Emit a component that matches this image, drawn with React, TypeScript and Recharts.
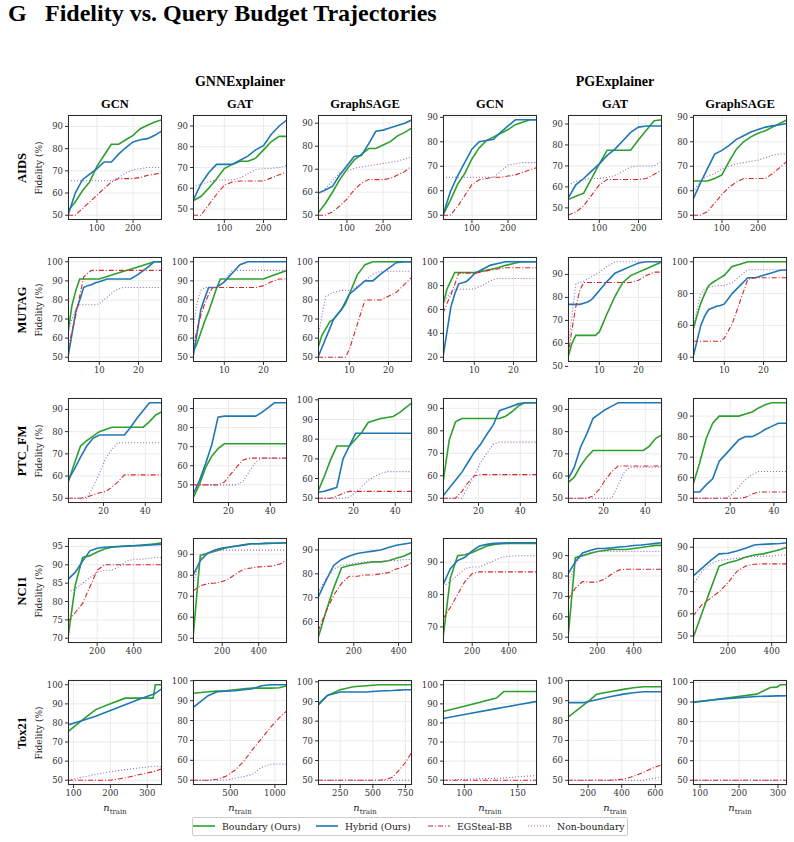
import { LineChart, Line, XAxis, YAxis, CartesianGrid } from "recharts";

// ---------- budgets (x values) ----------
const AIDS_X = [20, 40, 60, 80, 100, 120, 140, 160, 180, 200, 220, 240, 260, 280];
const AIDS_X_SHORT = [20, 40, 60, 80, 100, 120, 140, 160, 180, 200, 220, 240, 260];
const MUTAG_X = [2, 3, 4, 5, 6, 7, 8, 9, 10, 12, 14, 16, 18, 20, 22, 24, 26];
const PTC_X = [3, 6, 9, 12, 15, 18, 21, 24, 27, 30, 33, 36, 39, 42, 45, 48];
const PTC_X_SAGE_PG = [3, 6, 9, 12, 15, 18, 21, 24, 27, 30, 33, 36, 39, 42, 46];
const NCI1_X = [40, 80, 120, 160, 200, 240, 280, 320, 360, 400, 440, 480, 520, 555];
const NCI1_X_SAGE = [40, 75, 110, 145, 180, 215, 250, 285, 320, 355, 390, 425, 460];
const NCI1_X_SAGE_PG = [40, 80, 120, 160, 200, 240, 280, 320, 360, 400, 440, 470];
const TOX_X_GCN = [85, 120, 160, 200, 240, 280, 316, 322, 340];
const TOX_X_GAT = [80, 150, 250, 350, 450, 550, 650, 750, 850, 950, 1050, 1136];
const TOX_X_SAGE = [80, 150, 250, 350, 450, 550, 600, 650, 700, 750, 800];
const TOX_X_GCN_PG = [80, 100, 130, 137, 150, 168];
const TOX_X_GAT_PG = [80, 170, 210, 250, 330, 410, 470, 530, 580, 640];
const TOX_X_SAGE_PG = [82, 159, 245, 280, 297, 306, 323];

// ---------- fidelity (%) per panel: boundary / hybrid / egsteal / non-boundary ----------
const AIDS_GCN = {
  x: AIDS_X,
  boundary: [52, 56, 61, 65, 72, 77, 82, 82, 84, 86, 89, 90.5, 92, 93],
  hybrid: [50, 60, 66, 68.5, 71, 74, 74, 77.5, 80.5, 83, 84, 84.5, 86, 88],
  egsteal: [50, 50, 53, 56, 59, 62, 65, 66.5, 66.5, 66.5, 67, 68, 68.5, 69],
  nonBoundary: [65.5, 65.5, 65.5, 65.5, 65.5, 65.5, 65.5, 67, 69, 70.5, 71, 71.5, 71.5, 71.5],
};
const AIDS_GAT = {
  x: AIDS_X_SHORT,
  boundary: [54, 56, 60, 64.5, 69.5, 71.5, 73, 73, 74.5, 78.5, 82.5, 85, 85],
  hybrid: [54, 62, 67.5, 71.5, 71.5, 71.5, 73.5, 75.5, 78.5, 80.5, 86, 90, 93],
  egsteal: [47, 47, 52, 57, 61.5, 63, 63.5, 63.5, 63.5, 63.5, 65, 66.5, 68],
  nonBoundary: [60.5, 62, 63, 64, 64, 64, 65, 67, 69, 69.5, 69.5, 70, 71],
};
const AIDS_SAGE = {
  x: AIDS_X,
  boundary: [51, 55, 60, 65.5, 70, 74, 76.5, 79, 79, 80.5, 82, 84.5, 86, 88],
  hybrid: [59.5, 61, 62.5, 67.5, 71.5, 75.5, 76, 81, 86.5, 87, 88, 89, 90, 91.5],
  egsteal: [50, 50, 51.5, 54, 57, 61, 64, 65.5, 65.5, 65.5, 66, 67.5, 69, 71.5],
  nonBoundary: [59, 61.5, 65, 68.5, 69, 70.5, 71, 71.5, 72, 72.5, 73, 73.5, 74.5, 75.5],
};
const AIDS_PG_GCN = {
  x: AIDS_X,
  boundary: [50, 56, 62.5, 67, 73, 77.5, 80.5, 82, 83.5, 85, 87, 88, 89, 89],
  hybrid: [50, 59.5, 66, 71.5, 77, 80, 80.5, 81, 84, 86.5, 89, 89, 89, 89],
  egsteal: [50, 50, 53.5, 58, 62.5, 64.5, 65, 65.5, 65.5, 66, 66.5, 67.5, 68.5, 69.5],
  nonBoundary: [65.5, 65.5, 65.5, 65.5, 65.5, 65.5, 65.5, 65.5, 68, 70.5, 71, 71.5, 71.5, 71.5],
};
const AIDS_PG_GAT = {
  x: AIDS_X_SHORT,
  boundary: [54, 55.5, 57, 64, 71, 77.5, 77.5, 77.5, 77.5, 82.5, 87, 91.5, 92],
  hybrid: [54.5, 61, 64, 67.5, 71, 75, 78, 82, 86, 88.5, 89, 89, 89],
  egsteal: [46.5, 48, 51, 56, 61, 63.5, 63.5, 63.5, 63.5, 63.5, 64, 66, 68],
  nonBoundary: [61, 62.5, 63.5, 64, 64, 64.5, 65.5, 67.5, 69.5, 70, 70, 70, 72.5],
};
const AIDS_PG_SAGE = {
  x: AIDS_X,
  boundary: [64, 64, 64, 65, 66.5, 72, 77, 80, 82, 83.5, 84.5, 86, 87.5, 89],
  hybrid: [56.5, 63, 69, 75, 76.5, 78.5, 81, 82.5, 84, 85, 86, 86.5, 87, 87.5],
  egsteal: [50, 50, 51.5, 55, 58.5, 61.5, 63.5, 65, 65, 65, 65, 67, 69.5, 72],
  nonBoundary: [59.5, 64, 66, 67, 69, 70, 71, 71.5, 72, 72.5, 73.5, 74.5, 75, 75],
};

const MUTAG_GCN = {
  x: MUTAG_X,
  boundary: [63, 77, 85, 91, 91, 91, 91, 91, 91, 92.3, 93.6, 94.9, 96.1, 97.4, 98.7, 100, 100],
  hybrid: [50, 62, 74, 80, 86.5, 87.5, 88, 89, 89.5, 91, 91, 91, 91, 93.5, 96.5, 100, 100],
  egsteal: [55, 63, 72, 82, 92, 94, 95.5, 95.5, 95.5, 95.5, 95.5, 95.5, 95.5, 95.5, 95.5, 95.5, 95.5],
  nonBoundary: [63, 70, 75, 77.5, 77.5, 77.5, 77.5, 77.5, 78, 81.5, 85, 86.5, 86.5, 86.5, 86.5, 86.5, 86.5],
};
const MUTAG_GAT = {
  x: MUTAG_X,
  boundary: [53, 57, 63, 69, 74, 80, 86, 91, 91, 91, 91, 91, 91, 91, 92.5, 94, 95.5],
  hybrid: [50, 62, 75, 81, 86.5, 86.5, 86.5, 88, 89.5, 94, 98.5, 100, 100, 100, 100, 100, 100],
  egsteal: [55, 64, 72, 78, 83, 86.5, 86.5, 86.5, 86.5, 86.5, 86.5, 86.5, 86.5, 87.5, 89.5, 91, 91],
  nonBoundary: [65, 78, 85, 86.5, 86.5, 86.5, 86.5, 87.5, 90, 95.5, 95.5, 95.5, 95.5, 95.5, 95.5, 95.5, 95.5],
};
const MUTAG_SAGE = {
  x: MUTAG_X,
  boundary: [55, 61.5, 65, 68.5, 70, 72.5, 75, 78, 83, 93, 98.5, 100, 100, 100, 100, 100, 100],
  hybrid: [50, 55, 60, 65, 70, 72.5, 75, 79, 83, 86.5, 90, 90, 93.5, 96.5, 99.5, 100, 100],
  egsteal: [50, 50, 50, 50, 50, 50, 50, 50, 54, 67, 80, 80, 80, 82, 84, 88, 92],
  nonBoundary: [60, 72, 82, 83, 84, 84.5, 85, 85, 85, 87, 90, 93.5, 95, 95, 95, 95, 95],
};
const MUTAG_PG_GCN = {
  x: MUTAG_X,
  boundary: [64, 77, 84, 91, 91, 91, 91, 91, 91, 92, 93.5, 95, 97, 98.5, 100, 100, 100],
  hybrid: [20, 41, 62, 73, 81.5, 82.5, 83.5, 86.5, 90, 93.5, 97, 98.5, 100, 100, 100, 100, 100],
  egsteal: [57, 65, 72, 81, 90.5, 90.5, 90.5, 90.5, 90.5, 91.5, 93, 94, 95, 95, 95, 95, 95],
  nonBoundary: [65, 70, 75, 77, 77, 77, 77, 77, 77.5, 80, 84, 86, 86, 86, 86, 86, 86],
};
const MUTAG_PG_GAT = {
  x: MUTAG_X,
  boundary: [54, 60, 63.5, 63.5, 63.5, 63.5, 63.5, 63.5, 65, 73, 80.5, 86.5, 89.5, 91, 92.5, 94, 95.5],
  hybrid: [77, 77, 77, 77, 77.5, 78, 79, 81, 83, 87, 90.5, 92, 93.5, 95, 95.5, 95.5, 95.5],
  egsteal: [54, 66, 76, 83, 86.5, 86.5, 86.5, 86.5, 86.5, 86.5, 86.5, 86.5, 86.5, 87.5, 89.5, 91, 91],
  nonBoundary: [57, 72, 86, 86.5, 87, 88, 89, 90, 91, 93.5, 95.5, 95.5, 95.5, 95.5, 95.5, 95.5, 95.5],
};
const MUTAG_PG_SAGE = {
  x: MUTAG_X,
  boundary: [57, 66, 74, 80, 85, 87, 88.5, 90, 91.5, 97, 98.5, 100, 100, 100, 100, 100, 100],
  hybrid: [40, 50, 60, 66, 70, 71, 72, 72.5, 73.5, 80, 85, 90, 90, 91.5, 93, 94.5, 95],
  egsteal: [50, 50, 50, 50, 50, 50, 50, 50, 52, 61, 75, 89, 90, 90, 90, 90, 90],
  nonBoundary: [57, 70, 80, 83, 84, 84.5, 85, 85, 85, 87, 91, 95, 95, 95, 95, 95, 95],
};

const PTC_GCN = {
  x: PTC_X,
  boundary: [57, 65.5, 73.5, 76, 78, 80, 81, 82, 82, 82, 82, 82, 82, 84.5, 87.5, 89],
  hybrid: [58, 63, 68.5, 73.5, 77, 78.5, 78.5, 78.5, 78.5, 78.5, 82, 86, 89.5, 93, 93, 93],
  egsteal: [50, 50, 50, 50.5, 51.5, 52.5, 53, 55, 57.5, 60.5, 60.5, 60.5, 60.5, 60.5, 60.5, 60.5],
  nonBoundary: [50, 50, 50, 50, 55, 61, 68, 72, 75, 75, 75, 75, 75, 75, 75, 75],
};
const PTC_GAT = {
  x: PTC_X,
  boundary: [43, 50, 59, 65, 69, 71.5, 71.5, 71.5, 71.5, 71.5, 71.5, 71.5, 71.5, 71.5, 71.5, 71.5],
  hybrid: [45, 52, 61, 71, 85.5, 86, 86, 86, 86, 86, 86, 88, 90.5, 93, 93, 93],
  egsteal: [50, 50, 50, 50, 50, 51.5, 55.5, 59.5, 63, 64, 64, 64, 64, 64, 64, 64],
  nonBoundary: [50, 50, 50, 50, 50, 50, 50, 50, 52, 57, 62, 64, 64, 64, 64, 64],
};
const PTC_SAGE = {
  x: PTC_X,
  boundary: [53.5, 61, 69.5, 76.5, 76.5, 76.5, 80, 83.5, 88.5, 89.5, 90.5, 91, 91.5, 93.5, 96, 98.5],
  hybrid: [53, 53.5, 54.5, 55.5, 70, 76.5, 83, 83, 83, 83, 83, 83, 83, 83, 83, 83],
  egsteal: [50, 50, 50, 51, 52.5, 53.5, 53.5, 53.5, 53.5, 53.5, 53.5, 53.5, 53.5, 53.5, 53.5, 53.5],
  nonBoundary: [50, 50, 50, 50, 50, 50.5, 53, 56, 59, 61, 62.5, 63.5, 63.5, 63.5, 63.5, 63.5],
};
const PTC_PG_GCN = {
  x: PTC_X,
  boundary: [57, 76, 84, 85.5, 85.5, 85.5, 85.5, 85.5, 85.5, 85.5, 86.5, 88.5, 91, 92.5, 92.5, 92.5],
  hybrid: [51, 54.5, 58, 61.5, 66, 70.5, 74, 78.5, 82.5, 89, 90, 91, 92, 92.5, 92.5, 92.5],
  egsteal: [50, 50, 50, 53, 57, 60, 60.5, 60.5, 60.5, 60.5, 60.5, 60.5, 60.5, 60.5, 60.5, 60.5],
  nonBoundary: [50, 50, 50, 50, 55, 60, 66, 70, 74, 75, 75, 75, 75, 75, 75, 75],
};
const PTC_PG_GAT = {
  x: PTC_X,
  boundary: [57, 59.5, 64.5, 68.5, 71.5, 71.5, 71.5, 71.5, 71.5, 71.5, 71.5, 71.5, 71.5, 73.5, 77, 78.5],
  hybrid: [58.5, 64, 73, 79, 86, 88, 90, 91.5, 93, 93, 93, 93, 93, 93, 93, 93],
  egsteal: [50, 50, 50, 50, 51, 54, 58.5, 62, 64.5, 64.5, 64.5, 64.5, 64.5, 64.5, 64.5, 64.5],
  nonBoundary: [50, 50, 50, 50, 50, 50, 50, 50, 56, 62, 64, 64, 64, 64, 64, 64],
};
const PTC_PG_SAGE = {
  x: PTC_X_SAGE_PG,
  boundary: [56.5, 67, 79, 86.5, 90, 90, 90, 90, 91, 92, 94, 95.5, 96.5, 96.5, 96.5],
  hybrid: [53, 53, 56.5, 59.5, 68, 71.5, 75, 78.5, 80, 80, 81.5, 83.5, 85, 86.5, 86.5],
  egsteal: [50, 50, 50, 50, 50, 50, 50, 50, 50.5, 52, 53, 53, 53, 53, 53],
  nonBoundary: [50, 50, 50, 50, 50, 50, 52, 55.5, 59, 61.5, 63, 63, 63, 63, 63],
};

const NCI1_GCN = {
  x: NCI1_X,
  boundary: [70, 84.5, 92, 92.5, 93.5, 94.3, 94.8, 95, 95.1, 95.2, 95.3, 95.5, 95.7, 96],
  hybrid: [86, 88, 91, 93.8, 94.5, 94.8, 94.9, 95, 95.1, 95.2, 95.3, 95.4, 95.5, 95.6],
  egsteal: [74.5, 77, 79.5, 84, 88.5, 90, 90, 90, 90, 90, 90, 90, 90, 90],
  nonBoundary: [82.5, 83.5, 85, 86.5, 88, 88.5, 88.5, 89.5, 91, 91.5, 91.5, 91.7, 92, 92],
};
const NCI1_GAT = {
  x: NCI1_X,
  boundary: [50, 89.5, 90.5, 91.5, 92.5, 93.5, 94, 94.5, 95, 95, 95.2, 95.3, 95.4, 95.5],
  hybrid: [80, 87, 90.5, 92, 93, 93.5, 94, 94.5, 95, 95, 95.2, 95.3, 95.4, 95.5],
  egsteal: [72.5, 75, 76, 76.3, 77, 78.5, 81, 83, 83.5, 84, 84.2, 84.5, 85.5, 87.5],
  nonBoundary: [76, 88, 90.5, 91.5, 92, 92, 92, 92, 92, 92, 92, 92, 92, 92],
};
const NCI1_SAGE = {
  x: NCI1_X_SAGE,
  boundary: [53, 64, 74, 82.5, 83.5, 84, 84.5, 85, 85, 85.5, 86.5, 87.5, 89],
  hybrid: [70, 77, 83.5, 86, 87.5, 88.5, 89, 89.5, 90, 91, 92, 92.5, 93],
  egsteal: [56, 64, 71, 76, 79, 79, 79.5, 79.5, 80, 80.5, 82, 83, 84.5],
  nonBoundary: [72, 78, 82, 83.5, 84, 84.5, 85, 85, 85, 85.5, 85.5, 86, 86],
};
const NCI1_PG_GCN = {
  x: NCI1_X,
  boundary: [66.5, 85, 92, 92.3, 93, 94, 95, 95.5, 95.7, 95.8, 95.8, 95.8, 95.8, 95.8],
  hybrid: [83, 88, 90.5, 91.5, 93.5, 95, 95.5, 95.8, 95.9, 96, 96, 96, 96, 96],
  egsteal: [72.5, 76, 80, 84, 86.5, 87, 87, 87, 87, 87, 87, 87, 87, 87],
  nonBoundary: [82.5, 84, 86, 88, 88.5, 88.5, 89.5, 90.5, 91.5, 91.8, 92, 92, 92, 92],
};
const NCI1_PG_GAT = {
  x: NCI1_X,
  boundary: [49.5, 89, 90, 91, 92, 92.5, 93, 93, 93, 93.5, 94, 94.5, 95, 95],
  hybrid: [81, 87, 91.3, 92.5, 93.5, 93.5, 93.8, 94.2, 94.5, 95, 95.2, 95.6, 96, 96.3],
  egsteal: [68.5, 74, 77.3, 77, 77, 78.5, 81, 83, 83.3, 83.3, 83.3, 83.3, 83.3, 83.3],
  nonBoundary: [75, 86, 90, 91.5, 92, 92, 92, 92, 92, 92, 92, 92, 92, 92],
};
const NCI1_PG_SAGE = {
  x: NCI1_X_SAGE_PG,
  boundary: [49, 60, 71, 81.5, 83, 84, 85.5, 86.5, 87, 88, 89, 90],
  hybrid: [77, 80.5, 84, 87, 87.3, 88.3, 89.5, 91, 91.3, 91.5, 91.7, 92],
  egsteal: [59, 64, 67, 70, 74, 79, 81.5, 82.3, 82.5, 82.5, 82.5, 82.5],
  nonBoundary: [73, 79, 82.5, 84, 84.5, 85, 85.5, 85.8, 86, 86, 86.5, 86.5],
};

const TOX_GCN = {
  x: TOX_X_GCN,
  boundary: [75.5, 81, 87, 90, 93, 93, 93, 100, 100],
  hybrid: [79, 81, 83.5, 86.5, 89.5, 92.5, 95, 95.5, 98],
  egsteal: [50, 50, 50, 50, 51.2, 53, 54.5, 54.8, 56],
  nonBoundary: [50, 51.5, 53, 54.5, 55.5, 56.5, 57.3, 57.3, 57],
};
const TOX_GAT = {
  x: TOX_X_GAT,
  boundary: [93.7, 94, 94.5, 94.8, 95, 95.5, 96, 96.3, 96.3, 96.3, 96.5, 97.5],
  hybrid: [86.5, 89, 92.5, 94.5, 94.8, 95, 95.5, 96, 97.5, 98, 98, 98],
  egsteal: [50, 50, 50, 50.5, 52, 55, 59.5, 65.5, 71, 76.5, 81.5, 85],
  nonBoundary: [50, 50, 50, 50, 50, 51, 51.8, 53, 56.5, 58, 58.2, 58],
};
const TOX_SAGE = {
  x: TOX_X_SAGE,
  boundary: [88, 93, 96, 97.5, 98, 98.5, 98.5, 98.5, 98.5, 98.5, 98.5],
  hybrid: [88.5, 93, 94.8, 94.8, 94.8, 95.3, 95.5, 95.6, 95.8, 96, 96],
  egsteal: [50, 50, 50, 50, 50, 50, 50.5, 51.5, 55, 59, 64.5],
  nonBoundary: [50, 50, 50, 50, 50, 50, 50, 50, 50, 50, 50],
};
const TOX_PG_GCN = {
  x: TOX_X_GCN_PG,
  boundary: [86, 88.7, 93, 96.5, 96.5, 96.5],
  hybrid: [82.3, 84.4, 87.5, 88.2, 89.5, 91.3],
  egsteal: [50, 50, 50, 50, 50, 50],
  nonBoundary: [50, 50.5, 51, 51.2, 51.8, 52.5],
  yDomain: [47.5, 102.5],
};
const TOX_PG_GAT = {
  x: TOX_X_GAT_PG,
  boundary: [81.7, 87.7, 90.3, 93.2, 94.5, 95.7, 96.5, 97, 97, 97],
  hybrid: [89, 89, 89.7, 90.5, 92, 93.3, 94, 94.5, 94.5, 94.5],
  egsteal: [50, 50, 50, 50, 50, 50.5, 52, 54, 56, 57.8],
  nonBoundary: [50, 50, 50, 50, 50, 50, 50, 50, 50.8, 51.5],
  yDomain: [47.6, 100.4],
};
const TOX_PG_SAGE = {
  x: TOX_X_SAGE_PG,
  boundary: [89.7, 91.8, 94, 97.4, 97.6, 98.8, 98.8],
  hybrid: [90, 91.6, 92.8, 93, 93.1, 93.1, 93.2],
  egsteal: [50, 50, 50, 50, 50, 50, 50],
  nonBoundary: [50, 50, 50, 50, 50, 50, 50],
};

// ---------- tick labels ----------
const Y_50_90 = [50, 60, 70, 80, 90];
const Y_50_100 = [50, 60, 70, 80, 90, 100];

const ROWS = [
  {
    name: "AIDS",
    panels: [AIDS_GCN, AIDS_GAT, AIDS_SAGE, AIDS_PG_GCN, AIDS_PG_GAT, AIDS_PG_SAGE],
    xTicks: [[100, 200], [100, 200], [100, 200], [100, 200], [100, 200], [100, 200]],
    yTicks: [Y_50_90, Y_50_90, Y_50_90, Y_50_90, Y_50_90, Y_50_90],
  },
  {
    name: "MUTAG",
    panels: [MUTAG_GCN, MUTAG_GAT, MUTAG_SAGE, MUTAG_PG_GCN, MUTAG_PG_GAT, MUTAG_PG_SAGE],
    xTicks: [[10, 20], [10, 20], [10, 20], [10, 20], [10, 20], [10, 20]],
    yTicks: [Y_50_100, Y_50_100, Y_50_100, [20, 40, 60, 80, 100], Y_50_90, [40, 60, 80, 100]],
  },
  {
    name: "PTC_FM",
    panels: [PTC_GCN, PTC_GAT, PTC_SAGE, PTC_PG_GCN, PTC_PG_GAT, PTC_PG_SAGE],
    xTicks: [[20, 40], [20, 40], [20, 40], [20, 40], [20, 40], [20, 40]],
    yTicks: [Y_50_90, Y_50_90, Y_50_100, Y_50_90, Y_50_90, Y_50_90],
  },
  {
    name: "NCI1",
    panels: [NCI1_GCN, NCI1_GAT, NCI1_SAGE, NCI1_PG_GCN, NCI1_PG_GAT, NCI1_PG_SAGE],
    xTicks: [[200, 400], [200, 400], [200, 400], [200, 400], [200, 400], [200, 400]],
    yTicks: [[70, 75, 80, 85, 90, 95], Y_50_90, [60, 70, 80, 90], [70, 80, 90], Y_50_90, Y_50_90],
  },
  {
    name: "Tox21",
    panels: [TOX_GCN, TOX_GAT, TOX_SAGE, TOX_PG_GCN, TOX_PG_GAT, TOX_PG_SAGE],
    xTicks: [[100, 200, 300], [500, 1000], [250, 500, 750], [100, 150], [200, 400, 600], [100, 200, 300]],
    yTicks: [Y_50_100, Y_50_100, Y_50_100, Y_50_100, Y_50_100, Y_50_100],
  },
];

const MODELS = ["GCN", "GAT", "GraphSAGE", "GCN", "GAT", "GraphSAGE"];

// ---------- layout ----------
const COL_LEFT = [68, 193, 318, 443, 568, 693];
const ROW_TOP = [115, 257, 398, 538, 680];
const PW = 94;
const PH = 105;
const YW = 32;
const XH = 18;
const MT = 8;
const MR = 3;

const SERIF = "'DejaVu Serif', serif";
const TIMES = "'Liberation Serif', 'Times New Roman', serif";
const TICK = { fontSize: 8.5, fontFamily: SERIF, fill: "#333" };

const C_BOUNDARY = "#2ca02c";
const C_HYBRID = "#1f77b4";
const C_EGSTEAL = "#d62728";
const C_NONB = "#9467bd";

type PanelData = {
  x: number[];
  boundary: number[];
  hybrid: number[];
  egsteal: number[];
  nonBoundary: number[];
  yDomain?: number[];
};

function Panel({ d, xTicks, yTicks, left, top }: { d: PanelData; xTicks: number[]; yTicks: number[]; left: number; top: number }) {
  const data = d.x.map((x, i) => ({
    x,
    boundary: d.boundary[i],
    hybrid: d.hybrid[i],
    egsteal: d.egsteal[i],
    nonBoundary: d.nonBoundary[i],
  }));
  // 5% headroom around the data, like matplotlib's autoscale
  const all = [...d.boundary, ...d.hybrid, ...d.egsteal, ...d.nonBoundary];
  const lo = Math.min(...all);
  const hi = Math.max(...all);
  const pad = (hi - lo) * 0.05;
  const yDomain = d.yDomain ?? [lo - pad, hi + pad];

  return (
    <div style={{ position: "absolute", left: left - YW, top: top - MT }}>
      <LineChart width={YW + PW + MR} height={MT + PH + XH} data={data} margin={{ top: MT, right: MR, bottom: 0, left: 0 }}>
        <CartesianGrid stroke="#e6e6e6" strokeWidth={0.8} />
        <XAxis
          type="number"
          dataKey="x"
          domain={[d.x[0], d.x[d.x.length - 1]]}
          ticks={xTicks}
          interval={0}
          allowDataOverflow
          height={XH}
          tickSize={3}
          axisLine={false}
          tickLine={{ stroke: "#333" }}
          tick={TICK}
        />
        <YAxis
          type="number"
          domain={yDomain}
          ticks={yTicks}
          interval={0}
          allowDataOverflow
          width={YW}
          tickSize={3}
          axisLine={false}
          tickLine={{ stroke: "#333" }}
          tick={TICK}
        />
        <Line type="linear" dataKey="boundary" stroke={C_BOUNDARY} strokeWidth={1.6} dot={false} isAnimationActive={false} />
        <Line type="linear" dataKey="hybrid" stroke={C_HYBRID} strokeWidth={1.6} dot={false} isAnimationActive={false} />
        <Line type="linear" dataKey="egsteal" stroke={C_EGSTEAL} strokeWidth={1.1} strokeDasharray="5 2 1 2" dot={false} isAnimationActive={false} />
        <Line type="linear" dataKey="nonBoundary" stroke={C_NONB} strokeWidth={1.1} strokeDasharray="1 2" dot={false} isAnimationActive={false} />
      </LineChart>
      <div
        style={{
          position: "absolute",
          left: YW,
          top: MT,
          width: PW,
          height: PH,
          border: "1px solid #2a2a2a",
          boxSizing: "border-box",
          pointerEvents: "none",
        }}
      />
    </div>
  );
}

const LEGEND = [
  { label: "Boundary (Ours)", color: C_BOUNDARY, width: 1.6, textX: 222 },
  { label: "Hybrid (Ours)", color: C_HYBRID, width: 1.6, textX: 345 },
  { label: "EGSteal-BB", color: C_EGSTEAL, width: 1.1, dash: "5 2 1 2", textX: 457 },
  { label: "Non-boundary", color: C_NONB, width: 1.1, dash: "1 2", textX: 557 },
];

const center = (x: number, y: number, extra: React.CSSProperties = {}): React.CSSProperties => ({
  position: "absolute",
  left: x,
  top: y,
  transform: "translate(-50%, -50%)",
  whiteSpace: "nowrap",
  ...extra,
});

export default function App() {
  return (
    <div style={{ position: "absolute", left: 0, top: 0, width: 794, height: 842, background: "#fff", overflow: "hidden" }}>
      {/* figure title */}
      <div style={{ position: "absolute", left: 8, top: 0, fontFamily: TIMES, fontWeight: "bold", fontSize: 24, color: "#000" }}>
        G
      </div>
      <div style={{ position: "absolute", left: 45, top: 0, fontFamily: TIMES, fontWeight: "bold", fontSize: 24, color: "#000" }}>
        Fidelity vs. Query Budget Trajectories
      </div>

      {/* explainer group headers */}
      <div style={center(COL_LEFT[1] + PW / 2, 82, { fontFamily: TIMES, fontWeight: "bold", fontSize: 14 })}>GNNExplainer</div>
      <div style={center(COL_LEFT[4] + PW / 2, 82, { fontFamily: TIMES, fontWeight: "bold", fontSize: 14 })}>PGExplainer</div>

      {/* model column titles */}
      {MODELS.map((m, c) => (
        <div key={`m${c}`} style={center(COL_LEFT[c] + PW / 2, 104, { fontFamily: TIMES, fontWeight: "bold", fontSize: 12.5 })}>
          {m}
        </div>
      ))}

      {/* dataset row labels */}
      {ROWS.map((row, r) => (
        <div key={`r${r}`}>
          <div style={center(22, ROW_TOP[r] + PH / 2, { fontFamily: TIMES, fontWeight: "bold", fontSize: 12.5, transform: "translate(-50%, -50%) rotate(-90deg)" })}>
            {row.name}
          </div>
          <div style={center(39, ROW_TOP[r] + PH / 2, { fontFamily: SERIF, fontSize: 9, color: "#222", transform: "translate(-50%, -50%) rotate(-90deg)" })}>
            Fidelity (%)
          </div>
        </div>
      ))}

      {ROWS.map((row, r) =>
        row.panels.map((p, c) => (
          <Panel key={`p${r}-${c}`} d={p} xTicks={row.xTicks[c]} yTicks={row.yTicks[c]} left={COL_LEFT[c]} top={ROW_TOP[r]} />
        ))
      )}

      {/* x axis labels under the last row */}
      {COL_LEFT.map((l, c) => (
        <div key={`xl${c}`} style={center(l + PW / 2, 809, { fontFamily: SERIF, fontSize: 10, color: "#222" })}>
          <i>n</i>
          <sub style={{ fontSize: 7 }}>train</sub>
        </div>
      ))}

      {/* legend */}
      <div
        style={{
          position: "absolute",
          left: 192,
          top: 817,
          width: 436,
          height: 19,
          border: "1px solid #ccc",
          borderRadius: 2,
          boxSizing: "border-box",
        }}
      />
      {LEGEND.map((l) => (
        <div key={l.label}>
          <svg width={22} height={8} style={{ position: "absolute", left: l.textX - 29, top: 822 }}>
            <line x1={0} y1={4} x2={22} y2={4} stroke={l.color} strokeWidth={l.width} strokeDasharray={l.dash} />
          </svg>
          <div style={{ position: "absolute", left: l.textX, top: 826, transform: "translateY(-50%)", fontFamily: SERIF, fontSize: 9.3, color: "#222", whiteSpace: "nowrap" }}>
            {l.label}
          </div>
        </div>
      ))}
    </div>
  );
}
